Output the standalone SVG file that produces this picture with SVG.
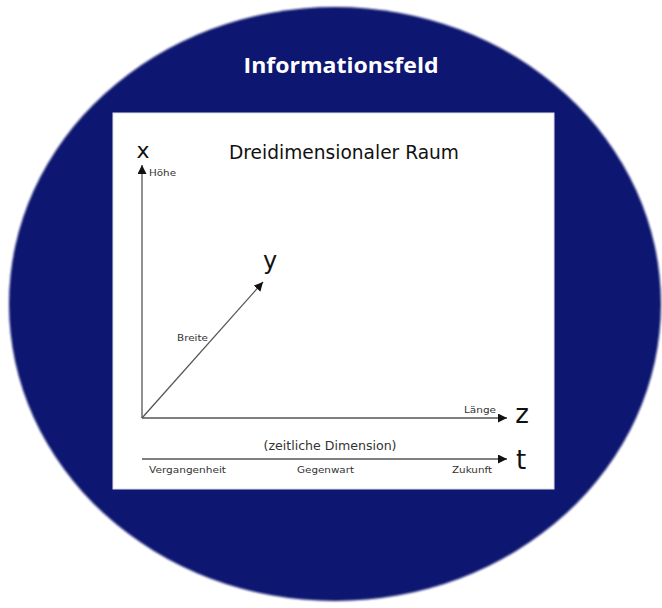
<svg xmlns="http://www.w3.org/2000/svg" width="662" height="608" viewBox="0 0 662 608">
<defs>
<filter id="soft" x="-5%" y="-5%" width="110%" height="110%"><feGaussianBlur stdDeviation="1.2"/></filter>
<marker id="ah" viewBox="0 0 10 10" refX="10" refY="5" markerWidth="9" markerHeight="9" markerUnits="userSpaceOnUse" orient="auto"><path d="M0,0 L10,5 L0,10 z" fill="#111"/></marker>
</defs>
<style>
.ax{stroke:#555;stroke-width:1.3;fill:none}
.big{font-family:"DejaVu Sans",sans-serif;fill:#111}
.sm{font-family:"DejaVu Sans",sans-serif;font-size:9px;fill:#333}
.mid{font-family:"DejaVu Sans",sans-serif;font-size:12px;fill:#333}
</style>
<rect width="662" height="608" fill="#fff"/>
<g id="field">
<ellipse cx="335" cy="304" rx="326" ry="297" fill="#0b136f" filter="url(#soft)"/>
<text x="341" y="73" text-anchor="middle" font-family="'Open Sans',sans-serif" font-weight="bold" font-size="22" fill="#fff" textLength="195" lengthAdjust="spacingAndGlyphs">Informationsfeld</text>
</g>
<g id="space">
<rect x="113" y="113" width="441" height="376" fill="#fff" stroke="#dde" stroke-width="1"/>
<text class="big" x="344" y="159" text-anchor="middle" font-size="19" textLength="230" lengthAdjust="spacingAndGlyphs">Dreidimensionaler Raum</text>
</g>
<g id="connectors">
<line class="ax" x1="142" y1="418" x2="142" y2="165" marker-end="url(#ah)"/>
<line class="ax" x1="142" y1="418" x2="263" y2="282" marker-end="url(#ah)"/>
<line class="ax" x1="142" y1="418" x2="507" y2="418" marker-end="url(#ah)"/>
<line class="ax" x1="142" y1="459" x2="507" y2="459" marker-end="url(#ah)"/>
</g>
<g id="axis-x">
<text class="big" x="143" y="158" text-anchor="middle" font-size="22">x</text>
<text class="sm" x="149" y="176" textLength="27" lengthAdjust="spacingAndGlyphs">Höhe</text>
</g>
<g id="axis-y">
<text class="big" x="270" y="269" text-anchor="middle" font-size="24">y</text>
<text class="sm" x="177" y="341" textLength="31" lengthAdjust="spacingAndGlyphs">Breite</text>
</g>
<g id="axis-z">
<text class="big" x="522" y="423" text-anchor="middle" font-size="26">z</text>
<text class="sm" x="464" y="413" textLength="32" lengthAdjust="spacingAndGlyphs">Länge</text>
</g>
<g id="axis-t">
<text class="big" x="521" y="469" text-anchor="middle" font-size="26">t</text>
<text class="mid" x="330" y="450" text-anchor="middle" textLength="133" lengthAdjust="spacingAndGlyphs">(zeitliche Dimension)</text>
<text class="sm" x="149" y="473" textLength="77" lengthAdjust="spacingAndGlyphs">Vergangenheit</text>
<text class="sm" x="297" y="473" textLength="57" lengthAdjust="spacingAndGlyphs">Gegenwart</text>
<text class="sm" x="452" y="473" textLength="40" lengthAdjust="spacingAndGlyphs">Zukunft</text>
</g>
</svg>
